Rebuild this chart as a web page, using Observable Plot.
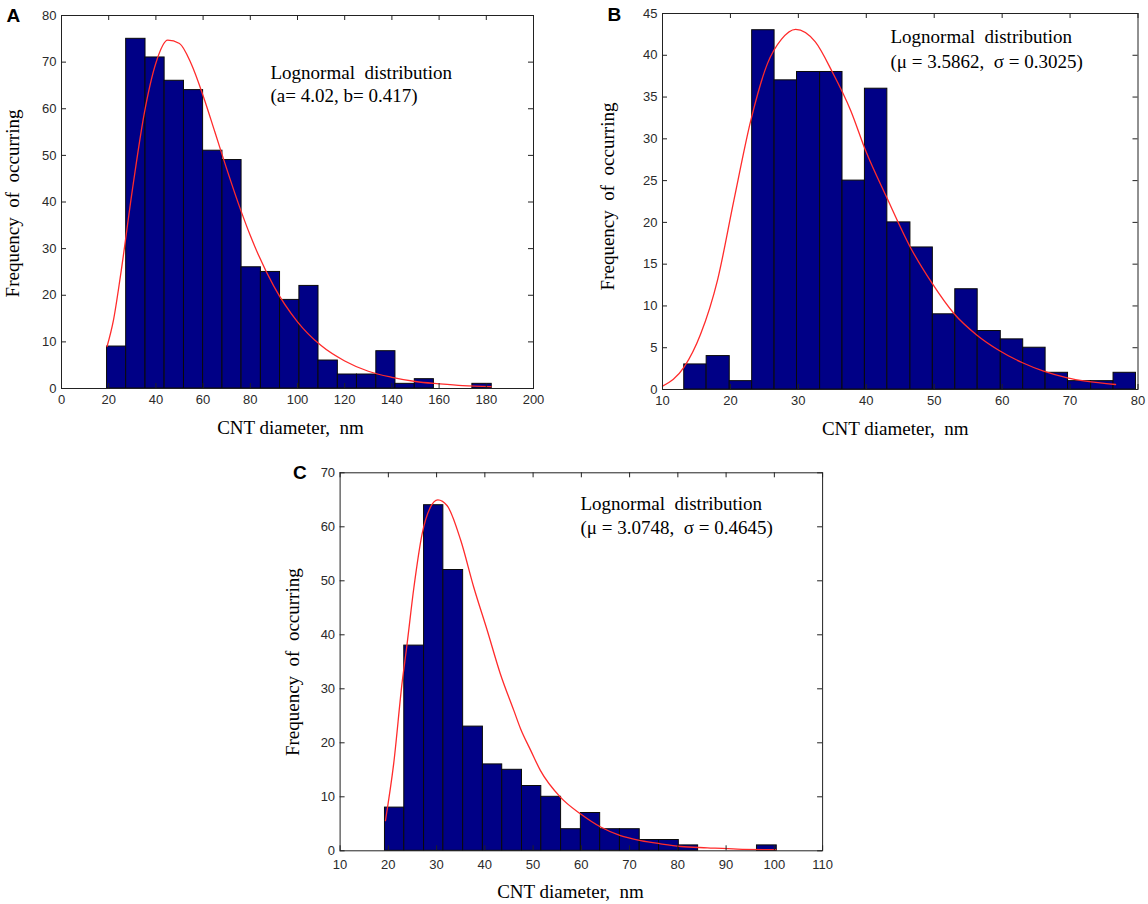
<!DOCTYPE html>
<html>
<head>
<meta charset="utf-8">
<script src="https://cdn.jsdelivr.net/npm/d3@7"></script>
<script src="https://cdn.jsdelivr.net/npm/@observablehq/plot@0.6"></script>
<style>
html, body { margin: 0; padding: 0; background: #fff; }
#root { position: relative; width: 1148px; height: 904px; overflow: hidden; background: #fff; }
.panel { position: absolute; }
.panel svg { display: block; max-width: none; }
</style>
</head>
<body>
<div id="root"></div>
<script>
// ---------- Panel A data ----------
const edgesA = [19.3, 27.4, 35.6, 43.7, 51.9, 60.0, 68.2, 76.3, 84.5, 92.6, 100.8, 108.9, 117.1, 125.2, 133.4, 141.5, 149.7, 157.8, 166.0, 174.1, 182.3];
const countsA = [9, 75, 71, 66, 64, 51, 49, 26, 25, 19, 22, 6, 3, 3, 8, 1, 2, 0, 0, 1];
const fitXA = [19.3, 22, 25, 30, 35, 40, 45, 50, 55, 60, 65, 70, 75, 80, 90, 100, 110, 120, 130, 140, 150, 160, 170, 182];
const fitYA = [9.0, 14.6, 24.2, 42.5, 58.8, 69.8, 74.7, 74.0, 69.6, 62.8, 55.0, 47.1, 39.6, 32.8, 21.9, 14.3, 9.2, 5.9, 3.7, 2.4, 1.5, 1.0, 0.6, 0.4];
const xTicksA = [0, 20, 40, 60, 80, 100, 120, 140, 160, 180, 200];
const yTicksA = [0, 10, 20, 30, 40, 50, 60, 70, 80];
const noteA = ["Lognormal  distribution", "(a= 4.02, b= 0.417)"];

// ---------- Panel B data ----------
const edgesB = [13.2, 16.5, 19.9, 23.2, 26.5, 29.8, 33.2, 36.5, 39.8, 43.1, 46.5, 49.8, 53.1, 56.4, 59.8, 63.1, 66.4, 69.7, 73.1, 76.4, 79.7];
const countsB = [3, 4, 1, 43, 37, 38, 38, 25, 36, 20, 17, 9, 12, 7, 6, 5, 2, 1, 1, 2];
const fitXB = [10, 13.2, 15.6, 18.1, 20.5, 23.0, 25.45, 27.5, 29.6, 32.5, 35.0, 37.7, 39.9, 43.0, 46.5, 49.7, 52.9, 56.3, 59.5, 63.0, 66.1, 69.6, 72.3, 76.7];
const fitYB = [0.4, 2.7, 6.6, 13.1, 22.6, 32.2, 39.0, 41.9, 43.1, 41.6, 38.0, 33.4, 28.6, 23.0, 17.0, 12.7, 9.1, 6.5, 4.7, 3.2, 2.2, 1.4, 1.0, 0.6];
const xTicksB = [10, 20, 30, 40, 50, 60, 70, 80];
const yTicksB = [0, 5, 10, 15, 20, 25, 30, 35, 40, 45];
const noteB = ["Lognormal  distribution", "(\u03bc = 3.5862,  \u03c3 = 0.3025)"];

// ---------- Panel C data ----------
const edgesC = [19.3, 23.3, 27.4, 31.4, 35.5, 39.6, 43.6, 47.7, 51.7, 55.8, 59.9, 63.9, 68.0, 72.1, 76.1, 80.2, 84.2, 88.3, 92.4, 96.4, 100.5];
const countsC = [8, 38, 64, 52, 23, 16, 15, 12, 10, 4, 7, 4, 4, 2, 2, 1, 0, 0, 0, 1];
const fitXC = [19.4, 21.1, 22.9, 23.8, 25.3, 27.0, 28.7, 30.25, 32.2, 35.0, 37.7, 40.5, 43.2, 46.0, 47.4, 49.5, 51.5, 55.7, 59.8, 64.0, 68.1, 72.3, 76.4, 80.6, 86.1, 92.3, 100.3];
const fitYC = [5.6, 16.1, 31.5, 37.7, 48.8, 58.7, 63.6, 65.0, 63.9, 57.5, 48.8, 40.8, 32.8, 26.0, 22.6, 18.6, 14.9, 9.9, 6.85, 4.4, 2.8, 1.9, 1.3, 0.8, 0.55, 0.3, 0.2];
const xTicksC = [10, 20, 30, 40, 50, 60, 70, 80, 90, 100, 110];
const yTicksC = [0, 10, 20, 30, 40, 50, 60, 70];
const noteC = ["Lognormal  distribution", "(\u03bc = 3.0748,  \u03c3 = 0.4645)"];

const xLabel = "CNT diameter,  nm";
const yLabel = "Frequency  of  occurring";

const serif = "'Liberation Serif', 'Times New Roman', Times, serif";
const sans = "'Liberation Sans', Arial, Helvetica, sans-serif";

function panel(cfg) {
  const W = cfg.width, H = cfg.height, m = cfg.margin;
  const fw = W - m.left - m.right, fh = H - m.top - m.bottom;
  const rows = cfg.counts.map((c, i) => ({x1: cfg.edges[i], x2: cfg.edges[i + 1], count: c}));
  const fit = cfg.fitX.map((x, i) => ({x, y: cfg.fitY[i]}));
  const svg = Plot.plot({
    width: W, height: H,
    marginLeft: m.left, marginRight: m.right, marginTop: m.top, marginBottom: m.bottom,
    x: {domain: cfg.xDomain},
    y: {domain: cfg.yDomain},
    style: {background: "white", color: "#2a2a2a", fontFamily: sans, overflow: "visible"},
    marks: [
      Plot.rectY(rows, {x1: "x1", x2: "x2", y: "count", fill: "#000086", stroke: "#0a0a0a", strokeWidth: 1, inset: 0}),
      Plot.line(fit, {x: "x", y: "y", stroke: "#ff2b2b", strokeWidth: 1.3, curve: "monotone-x"}),
      Plot.frame({stroke: "#222", strokeWidth: 1}),
      Plot.tickX(cfg.xTicks, {x: d => d, insetTop: fh - 5, stroke: "#222"}),
      Plot.tickX(cfg.xTicks, {x: d => d, insetBottom: fh - 5, stroke: "#222"}),
      Plot.tickY(cfg.yTicks, {y: d => d, insetRight: fw - 5, stroke: "#222"}),
      Plot.tickY(cfg.yTicks, {y: d => d, insetLeft: fw - 5, stroke: "#222"}),
      Plot.axisX({ticks: cfg.xTicks, tickSize: 0, tickPadding: cfg.xPad, fontSize: cfg.tickFont, fontFamily: sans, label: null}),
      Plot.axisY({ticks: cfg.yTicks, tickSize: 0, tickPadding: 5, fontSize: cfg.tickFont, fontFamily: sans, label: null}),
      Plot.text([cfg.letter], {text: d => d, frameAnchor: "top-left", dx: cfg.letterPos[0], dy: cfg.letterPos[1], textAnchor: "start", lineAnchor: "bottom", fontSize: 19, fontWeight: "bold", fontFamily: sans, fill: "black"}),
      Plot.text([cfg.note[0]], {text: d => d, frameAnchor: "top-left", dx: cfg.notePos[0], dy: cfg.notePos[1], textAnchor: "start", lineAnchor: "bottom", fontSize: 19, fontFamily: serif, fill: "black"}),
      Plot.text([cfg.note[1]], {text: d => d, frameAnchor: "top-left", dx: cfg.notePos[0], dy: cfg.notePos[2], textAnchor: "start", lineAnchor: "bottom", fontSize: 19, fontFamily: serif, fill: "black"}),
      Plot.text([yLabel], {text: d => d, frameAnchor: "left", dx: cfg.yLabelPos[0], dy: cfg.yLabelPos[1], rotate: -90, textAnchor: "middle", lineAnchor: "middle", fontSize: 19, fontFamily: serif, fill: "black"}),
      Plot.text([xLabel], {text: d => d, frameAnchor: "bottom", dx: cfg.xLabelPos[0], dy: cfg.xLabelPos[1], textAnchor: "middle", lineAnchor: "middle", fontSize: 19, fontFamily: serif, fill: "black"})
    ]
  });
  const div = document.createElement("div");
  div.className = "panel";
  div.style.left = cfg.left + "px";
  div.style.top = cfg.top + "px";
  div.appendChild(svg);
  document.getElementById("root").appendChild(div);
}

panel({
  left: 0, top: 0, width: 560, height: 440,
  margin: {left: 61, right: 27, top: 15, bottom: 52},
  xDomain: [0, 200], yDomain: [0, 80],
  edges: edgesA, counts: countsA, fitX: fitXA, fitY: fitYA,
  xTicks: xTicksA, yTicks: yTicksA, note: noteA, letter: "A",
  tickFont: 13, xPad: 6,
  letterPos: [-55, 6], notePos: [209, 63, 86],
  yLabelPos: [-48.4, 1.5], xLabelPos: [-7, 39]
});

panel({
  left: 580, top: 0, width: 568, height: 440,
  margin: {left: 82, right: 10.5, top: 13, bottom: 51},
  xDomain: [10, 80], yDomain: [0, 45],
  edges: edgesB, counts: countsB, fitX: fitXB, fitY: fitYB,
  xTicks: xTicksB, yTicks: yTicksB, note: noteB, letter: "B",
  tickFont: 13, xPad: 6,
  letterPos: [-55, 7], notePos: [228, 29, 54],
  yLabelPos: [-54.5, -5], xLabelPos: [-5, 39]
});

panel({
  left: 250, top: 445, width: 600, height: 459,
  margin: {left: 89.6, right: 27.9, top: 27.3, bottom: 53.7},
  xDomain: [10, 110], yDomain: [0, 70],
  edges: edgesC, counts: countsC, fitX: fitXC, fitY: fitYC,
  xTicks: xTicksC, yTicks: yTicksC, note: noteC, letter: "C",
  tickFont: 13, xPad: 9,
  letterPos: [-47, 5.7], notePos: [240.4, 36.7, 60.7],
  yLabelPos: [-47.1, 0.4], xLabelPos: [-10.9, 41]
});
</script>
</body>
</html>
